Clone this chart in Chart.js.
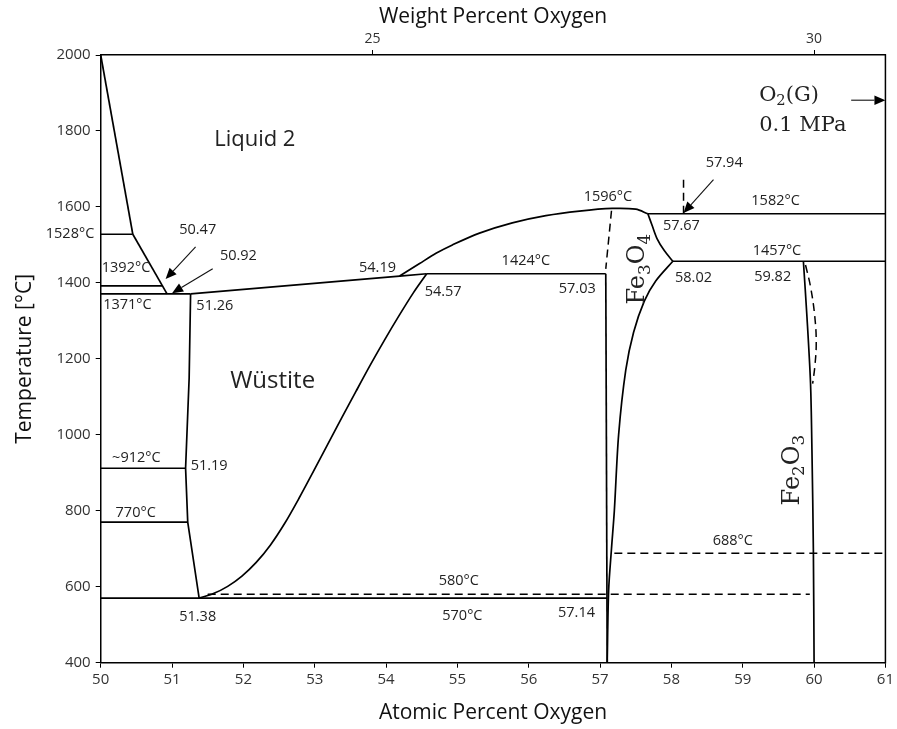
<!DOCTYPE html>
<html><head><meta charset="utf-8">
<script src="https://cdn.jsdelivr.net/npm/chart.js@4.4.0/dist/chart.umd.min.js"></script>
<style>html,body{margin:0;padding:0;background:#fff}canvas{display:block}</style>
</head><body>
<canvas id="c" width="897" height="729"></canvas>
<script>
// ---------- data: x = atomic percent oxygen, y = temperature (°C) ----------
const weightTickPositions = [53.81, 60.0];
const weightTickLabels = ['25', '30'];

// solid phase boundaries
const liquidusFeHigh   = [[50,2000],[50.45,1528]];
const liquidusFeLow    = [[50.45,1528],[50.93,1371]];
const iso1528          = [[50,1528],[50.45,1528]];
const iso1392          = [[50,1392],[50.87,1392]];
const iso1371          = [[50,1371],[51.26,1371]];
const liquidusWustite  = [[51.26,1371],[54.19,1418],[54.57,1424]];
const iso1424          = [[54.57,1424],[57.08,1424]];
const liquidusMagnetite= [[54.19,1418],[54.47,1451],[54.70,1478],[54.93,1500],[55.31,1531],[55.77,1558],[56.24,1577],[56.71,1589],[57.17,1596],[57.50,1594],[57.67,1582]];
const wustiteFeSide    = [[51.26,1371],[51.24,1150],[51.19,912],[51.22,770],[51.38,570]];
const iso912           = [[50,912],[51.19,912]];
const iso770           = [[50,770],[51.22,770]];
const wustiteOSide     = [[54.57,1424],[54.38,1373],[54.18,1313],[53.98,1250],[53.78,1184],[53.58,1115],[53.38,1045],[53.18,974],[52.98,903],[52.78,833],[52.58,767],[52.38,710],[52.18,664],[51.98,628],[51.78,601],[51.58,582],[51.38,570]];
const eutectoid570     = [[50,570],[57.10,570]];
const magnetiteLimit   = [[57.08,1424],[57.10,400]];
const magnetiteFeSide  = [[57.10,400],[57.12,590],[57.16,700],[57.20,800],[57.26,1000],[57.36,1170],[57.47,1270],[57.62,1352],[57.78,1405],[58.02,1457]];
const magnetiteOSide   = [[57.67,1582],[57.73,1551],[57.80,1516],[57.90,1485],[58.02,1457]];
const iso1582          = [[57.67,1582],[61,1582]];
const iso1457          = [[58.02,1457],[61,1457]];
const hematiteFeSide   = [[59.85,1457],[59.90,1311],[59.95,1136],[59.97,960],[59.99,697],[60.0,400]];

// dashed boundaries
const hematiteDashed   = [[59.88,1447],[59.95,1390],[60.01,1311],[60.03,1241],[60.01,1179],[59.98,1135]];
const magnetiteDashed  = [[57.16,1590],[57.08,1437]];
const oxygenDashed     = [[58.17,1582],[58.17,1683]];
const dashed580        = [[51.5,580],[59.94,580]];
const dashed688        = [[57.20,688],[61,688]];

// ---------- annotations ----------
const textLabels = [
  {t:'Liquid 2', x:52.16, y:1776, size:22},
  {t:'Wüstite', x:52.41, y:1140, size:24},
  {t:'1528°C', x:49.57, y:1528, size:14.5},
  {t:'1392°C', x:50.355, y:1439, size:14.5},
  {t:'1371°C', x:50.375, y:1341, size:14.5},
  {t:'50.47', x:51.36, y:1539, size:14.5},
  {t:'50.92', x:51.93, y:1471, size:14.5},
  {t:'51.26', x:51.60, y:1339, size:14.5},
  {t:'54.19', x:53.88, y:1439, size:14.5},
  {t:'54.57', x:54.80, y:1377, size:14.5},
  {t:'1424°C', x:55.96, y:1457, size:14.5},
  {t:'57.03', x:56.68, y:1383, size:14.5},
  {t:'1596°C', x:57.11, y:1627, size:14.5},
  {t:'57.94', x:58.74, y:1716, size:14.5},
  {t:'1582°C', x:59.46, y:1617, size:14.5},
  {t:'57.67', x:58.14, y:1550, size:14.5},
  {t:'1457°C', x:59.48, y:1483, size:14.5},
  {t:'58.02', x:58.31, y:1413, size:14.5},
  {t:'59.82', x:59.42, y:1417, size:14.5},
  {t:'~912°C', x:50.50, y:938, size:14.5},
  {t:'51.19', x:51.52, y:917, size:14.5},
  {t:'770°C', x:50.49, y:795, size:14.5},
  {t:'51.38', x:51.36, y:521, size:14.5},
  {t:'580°C', x:55.02, y:615, size:14.5},
  {t:'570°C', x:55.07, y:524, size:14.5},
  {t:'57.14', x:56.67, y:530, size:14.5},
  {t:'688°C', x:58.86, y:720, size:14.5}
];
const richLabels = [
  {segs:[['Fe'],['3',1],['O'],['4',1]], x:57.50, y:1436, size:24, rot:true, align:'center'},
  {segs:[['Fe'],['2',1],['O'],['3',1]], x:59.67, y:907, size:24, rot:true, align:'center'},
  {segs:[['O'],['2',1],['(G)']], x:59.23, y:1900, size:21, rot:false, align:'left'},
  {segs:[['0.1 MPa']], x:59.23, y:1821, size:21, rot:false, align:'left'}
];
const arrows = [
  {from:[51.33,1495], to:[50.91,1410]},
  {from:[51.57,1437], to:[51.00,1373]},
  {from:[58.59,1672], to:[58.17,1584]},
  {from:[60.52,1881], to:[61.00,1881]}
];

// ---------- datasets ----------
const solid = [liquidusFeHigh, liquidusFeLow, iso1528, iso1392, iso1371, liquidusWustite, iso1424,
  wustiteFeSide, iso912, iso770, eutectoid570, magnetiteLimit, iso1582, iso1457];
const curves = [liquidusMagnetite, wustiteOSide, magnetiteFeSide, magnetiteOSide, hematiteFeSide];
const dashed = [magnetiteDashed, oxygenDashed, dashed580, dashed688];
const dashedCurves = [hematiteDashed];

const mk = (arr, dash, tension) => ({
  data: arr.map(([x, y]) => ({x, y})),
  showLine: true, pointRadius: 0, borderColor: '#000', borderWidth: dash ? 1.5 : 1.7,
  borderDash: dash ? [8, 5] : [], tension: tension, fill: false, clip: false
});
const datasets = [
  ...solid.map(a => mk(a, false, 0)),
  ...curves.map(a => mk(a, false, 0.3)),
  ...dashed.map(a => mk(a, true, 0)),
  ...dashedCurves.map(a => mk(a, true, 0.4))
];

const SANS = '"Open Sans", "Liberation Sans", sans-serif';
const SERIF = '"DejaVu Serif", "Liberation Serif", serif';

const annot = {
  id: 'annot',
  afterDraw(chart) {
    const {ctx, chartArea: ca} = chart;
    const sx = chart.scales.x, sy = chart.scales.y;
    ctx.save();
    // right frame
    ctx.strokeStyle = '#000'; ctx.lineWidth = 1.5;
    ctx.beginPath(); ctx.moveTo(ca.right, ca.top - 0.75); ctx.lineTo(ca.right, ca.bottom + 0.75); ctx.stroke();
    // plain labels
    ctx.fillStyle = '#222'; ctx.textAlign = 'center'; ctx.textBaseline = 'middle';
    for (const l of textLabels) {
      ctx.font = l.size + 'px ' + SANS;
      ctx.fillText(l.t, sx.getPixelForValue(l.x), sy.getPixelForValue(l.y));
    }
    // rich labels with subscripts
    for (const r of richLabels) {
      ctx.save();
      ctx.translate(sx.getPixelForValue(r.x), sy.getPixelForValue(r.y));
      if (r.rot) ctx.rotate(-Math.PI / 2);
      const subSize = r.size * 0.7;
      let w = 0;
      for (const s of r.segs) { ctx.font = (s[1] ? subSize : r.size) + 'px ' + SERIF; w += ctx.measureText(s[0]).width; }
      let cx = r.align === 'center' ? -w / 2 : 0;
      ctx.textAlign = 'left'; ctx.textBaseline = 'alphabetic';
      const base = r.size * 0.36;
      for (const s of r.segs) {
        ctx.font = (s[1] ? subSize : r.size) + 'px ' + SERIF;
        ctx.fillText(s[0], cx, s[1] ? base + r.size * 0.22 : base);
        cx += ctx.measureText(s[0]).width;
      }
      ctx.restore();
    }
    // arrows
    ctx.strokeStyle = '#111'; ctx.fillStyle = '#000'; ctx.lineWidth = 1.1;
    for (const a of arrows) {
      const x1 = sx.getPixelForValue(a.from[0]), y1 = sy.getPixelForValue(a.from[1]);
      const x2 = sx.getPixelForValue(a.to[0]), y2 = sy.getPixelForValue(a.to[1]);
      const ang = Math.atan2(y2 - y1, x2 - x1), L = 11, H = 4.8;
      const bx = x2 - L * Math.cos(ang), by = y2 - L * Math.sin(ang);
      ctx.beginPath(); ctx.moveTo(x1, y1); ctx.lineTo(bx, by); ctx.stroke();
      ctx.beginPath(); ctx.moveTo(x2, y2);
      ctx.lineTo(bx + H * Math.sin(ang), by - H * Math.cos(ang));
      ctx.lineTo(bx - H * Math.sin(ang), by + H * Math.cos(ang));
      ctx.closePath(); ctx.fill();
    }
    ctx.restore();
  }
};

const gridOpts = {display: true, drawOnChartArea: false, drawTicks: true, tickLength: 5, color: '#000', lineWidth: 1};
const borderOpts = {display: true, color: '#000', width: 1.5};
const tickFont = {family: SANS, size: 15};
const titleFont = {family: SANS, size: 21};

new Chart(document.getElementById('c'), {
  type: 'scatter',
  data: {datasets},
  options: {
    responsive: false, maintainAspectRatio: false, animation: false, devicePixelRatio: 1,
    events: [],
    layout: {padding: {left: 0, right: 11, top: 0, bottom: 0}},
    plugins: {legend: {display: false}, tooltip: {enabled: false}},
    scales: {
      x: {
        type: 'linear', position: 'bottom', min: 50, max: 61,
        ticks: {stepSize: 1, font: tickFont, color: '#333', padding: 3, autoSkip: false, maxRotation: 0,
          callback: v => String(v)},
        grid: gridOpts, border: borderOpts,
        title: {display: true, text: 'Atomic Percent Oxygen', font: titleFont, color: '#111', padding: {top: 0, bottom: 3.4}},
        afterFit(s) { s.height = 66.3; }
      },
      xTop: {
        type: 'linear', position: 'top', min: 50, max: 61,
        afterBuildTicks(axis) { axis.ticks = weightTickPositions.map(v => ({value: v})); },
        ticks: {font: {family: SANS, size: 14}, color: '#333', padding: 3, autoSkip: false, maxRotation: 0,
          callback: (v, i) => weightTickLabels[i]},
        grid: gridOpts, border: borderOpts,
        title: {display: true, text: 'Weight Percent Oxygen', font: titleFont, color: '#111', padding: {top: 4.4, bottom: 0}},
        afterFit(s) { s.height = 55; }
      },
      y: {
        type: 'linear', position: 'left', min: 400, max: 2000,
        ticks: {stepSize: 200, font: tickFont, color: '#333', padding: 5, callback: v => String(v)},
        grid: gridOpts, border: borderOpts,
        title: {display: true, text: 'Temperature [°C]', font: titleFont, color: '#111', padding: {top: 12.5, bottom: 0}},
        afterFit(s) { s.width = 100.7; }
      }
    }
  },
  plugins: [annot]
});
</script></body></html>
